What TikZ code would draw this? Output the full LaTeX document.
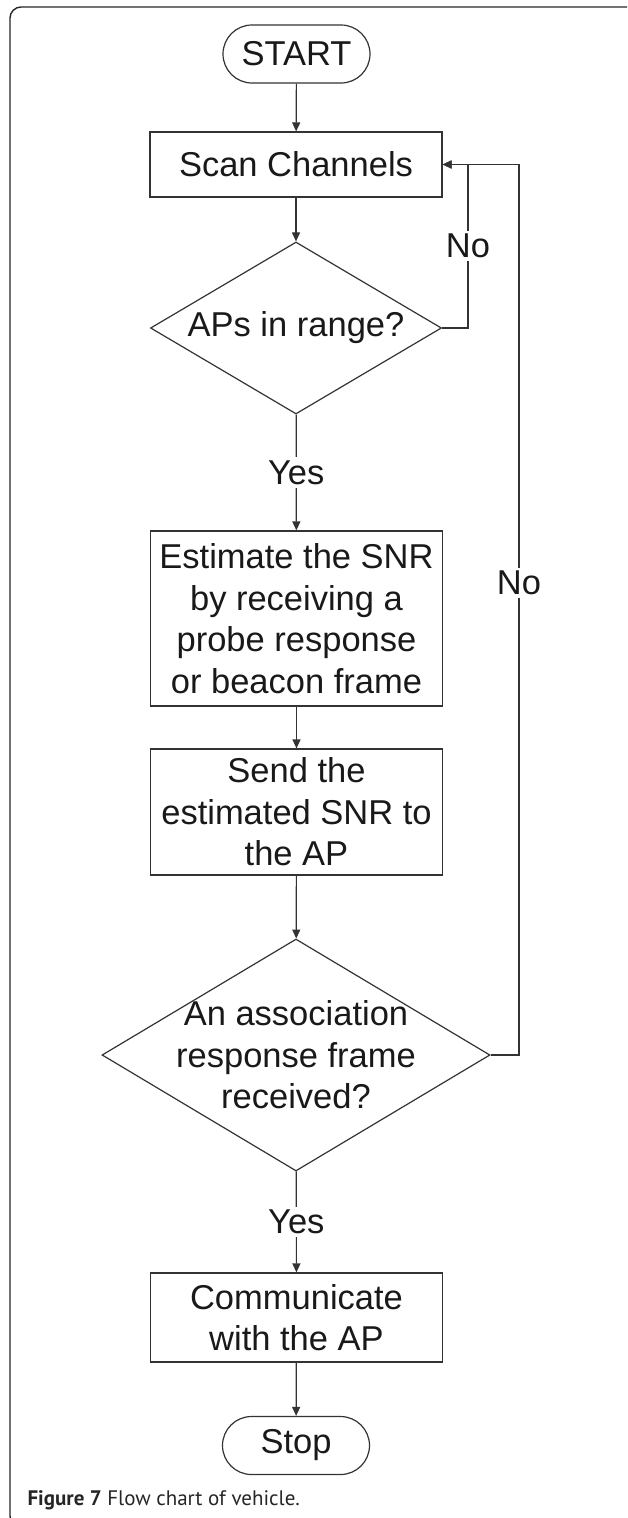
\documentclass[tikz,border=0pt]{standalone}
\usepackage{fontspec}
\setmainfont{Liberation Sans}
\newfontfamily\capfont{PT Sans}
\usetikzlibrary{shapes.geometric,shapes.misc,arrows.meta}
\begin{document}
\begin{tikzpicture}[x=1pt,y=-1pt,
  every node/.style={font=\fontsize{34.5}{41.5}\selectfont, text=black!90},
  ln/.style={draw=black!80, line width=1.2pt},
  arr/.style={ln, -{Triangle[length=9pt,width=8pt]}},
  term/.style={ln, rounded rectangle, minimum width=147pt, minimum height=58pt, inner sep=0pt},
  proc/.style={ln, rectangle, minimum width=292pt, inner sep=0pt, align=center},
  dec/.style={ln, diamond, inner sep=0pt},
  lbl/.style={fill=white, inner sep=3pt},
]
\useasboundingbox (0,0) rectangle (627,1518);
\clip (0,0) rectangle (627,1518);
\draw[line width=1.4pt, draw=black!85, rounded corners=11pt] (10,7) rectangle (720,1527);

\node[term] (start) at (296.5,54) {START};
\node[proc, minimum height=65pt] (scan) at (296,164.5) {Scan Channels};
\node[dec, minimum width=291pt, minimum height=172pt, label={[name=d1t]center:APs in range?}] (d1) at (296,328) {};
\node[proc, minimum height=175pt] (est) at (296.5,618.5) {Estimate the SNR\\by receiving a\\probe response\\or beacon frame};
\node[proc, minimum height=126pt] (send) at (296.5,812) {Send the\\estimated SNR to\\the AP};
\node[dec, minimum width=388pt, minimum height=232pt, label={[name=d2t, align=center]center:An association\\response frame\\received?}] (d2) at (296,1055) {};
\node[proc, minimum height=89pt] (comm) at (296.5,1317.5) {Communicate\\with the AP};
\node[term] (stop) at (296,1445.5) {Stop};

\coordinate (b1) at (468,0);
\coordinate (b2) at (519,0);

\draw[arr] (start) -- (scan);
\draw[arr] (scan) -- (d1);
\draw[arr] (d1) -- node[lbl] (yes1) {Yes} (est);
\draw[arr] (est) -- (send);
\draw[arr] (send) -- (d2);
\draw[arr] (d2) -- node[lbl] (yes2) {Yes} (comm);
\draw[arr] (comm) -- (stop);
\draw[arr] (d1.east) -- (d1.east -| b1) -- node[lbl] (no1) {No} (scan.east -| b1) -- (scan.east);
\draw[arr] (d2.east) -- (d2.east -| b2) -- node[lbl, pos=0.53] (no2) {No} (scan.east -| b2) -- (scan.east);

\node[anchor=west, font=\capfont\fontsize{21}{25}\selectfont, text=black!85] (cap) at (24,1500) {\textbf{Figure 7} Flow chart of vehicle.};
\end{tikzpicture}
\end{document}
